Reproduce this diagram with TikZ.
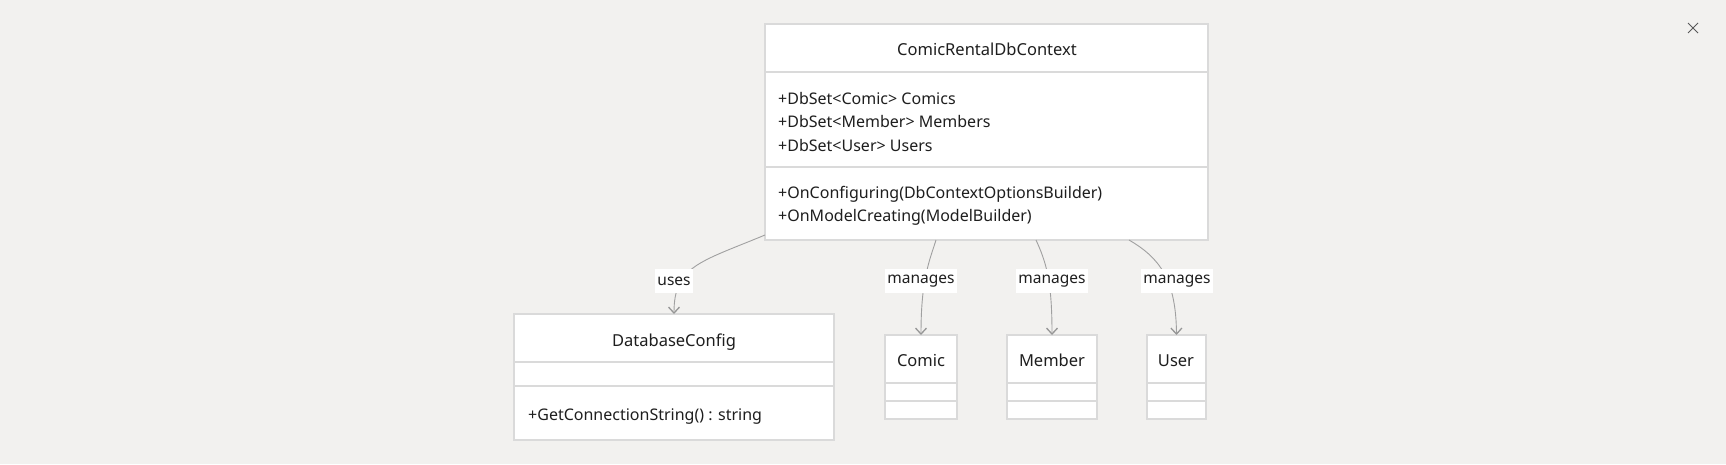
\documentclass[tikz,border=0pt]{standalone}
\usepackage{fontspec}
\setmainfont{Noto Sans}
\usetikzlibrary{arrows.meta,calc}
\definecolor{bgc}{RGB}{242,241,239}
\definecolor{bordc}{RGB}{218,218,218}
\definecolor{linec}{RGB}{160,160,160}
\definecolor{tipc}{RGB}{150,150,150}
\definecolor{txtc}{RGB}{30,30,30}
\tikzset{
  umlbox/.style={draw=bordc,line width=1.3pt,fill=white,rectangle,anchor=north west,inner sep=0pt,outer sep=0pt},
  divline/.style={draw=bordc,line width=1.3pt},
  ttl/.style={font=\fontsize{16.5}{19}\selectfont,text=txtc,inner sep=0pt,text height=12pt,text depth=4pt},
  mem/.style={font=\fontsize{16}{19}\selectfont,text=txtc,inner sep=0pt,anchor=west},
  lbl/.style={font=\fontsize{15.5}{18}\selectfont,text=txtc,fill=white,inner sep=2pt,minimum height=24pt},
  conn/.style={draw=linec,line width=0.9pt,-{Straight Barb[length=6pt,width=11pt,line width=1.3pt,color=tipc]}},
}
\begin{document}
\begin{tikzpicture}[x=1pt,y=-1pt]
\fill[bgc] (0,0) rectangle (1726,464);
\useasboundingbox (0,0) rectangle (1726,464);
% close cross
\draw[draw=black!65,line width=1pt] (1688,23) -- (1698,33) (1698,23) -- (1688,33);

% main box
\node[umlbox,minimum width=443pt,minimum height=216pt] (main) at (765,24) {};
\draw[divline] (765,72) -- (1208,72);
\draw[divline] (765,167) -- (1208,167);
\node[ttl] (mainT) at (987,51) {ComicRentalDbContext};
\node[mem] (a1) at (778,98) {+DbSet<Comic> Comics};
\node[mem] (a2) at (778,121) {+DbSet<Member> Members};
\node[mem] (a3) at (778,145) {+DbSet<User> Users};
\node[mem] (m1) at (778,194) {+OnConfiguring(DbContextOptionsBuilder)};
\node[mem] (m2) at (778,217) {+OnModelCreating(ModelBuilder)};

% DatabaseConfig
\node[umlbox,minimum width=320pt,minimum height=126pt] (dbc) at (514,314) {};
\draw[divline] (514,362) -- (834,362);
\draw[divline] (514,386) -- (834,386);
\node[ttl] (dbcT) at (674,342) {DatabaseConfig};
\node[mem] (dbcM) at (528,417) {+GetConnectionString() : string};

% Comic
\node[umlbox,minimum width=72pt,minimum height=84pt] (comic) at (885,335) {};
\draw[divline] (885,383) -- (957,383);
\draw[divline] (885,401) -- (957,401);
\node[ttl] (comicT) at (921,362) {Comic};

% Member
\node[umlbox,minimum width=90pt,minimum height=84pt] (member) at (1007,335) {};
\draw[divline] (1007,383) -- (1097,383);
\draw[divline] (1007,401) -- (1097,401);
\node[ttl] (memberT) at (1052,362) {Member};

% User
\node[umlbox,minimum width=59pt,minimum height=84pt] (user) at (1147,335) {};
\draw[divline] (1147,383) -- (1206,383);
\draw[divline] (1147,401) -- (1206,401);
\node[ttl] (userT) at (1176,362) {User};

% connector endpoints
\coordinate (s0) at (main.south west);
\coordinate (s1) at ($(main.south west)+(171,0)$);
\coordinate (s2) at ($(main.south west)+(271,0)$);
\coordinate (s3) at ($(main.south west)+(364,0)$);

\draw[conn] ($(s0)+(0,-5)$) .. controls (700,262) and (674,266) .. (dbc.north);
\draw[conn] (s1) .. controls (929,262) and (921,280) .. (comic.north);
\draw[conn] (s2) .. controls (1046,262) and (1052,280) .. (member.north);
\draw[conn] (s3) .. controls (1160,258) and (1176,280) .. (user.north);

\node[lbl] (l0) at (674,281) {uses};
\node[lbl] (l1) at (921,281) {manages};
\node[lbl] (l2) at (1052,281) {manages};
\node[lbl] (l3) at (1177,281) {manages};
\end{tikzpicture}
\end{document}
